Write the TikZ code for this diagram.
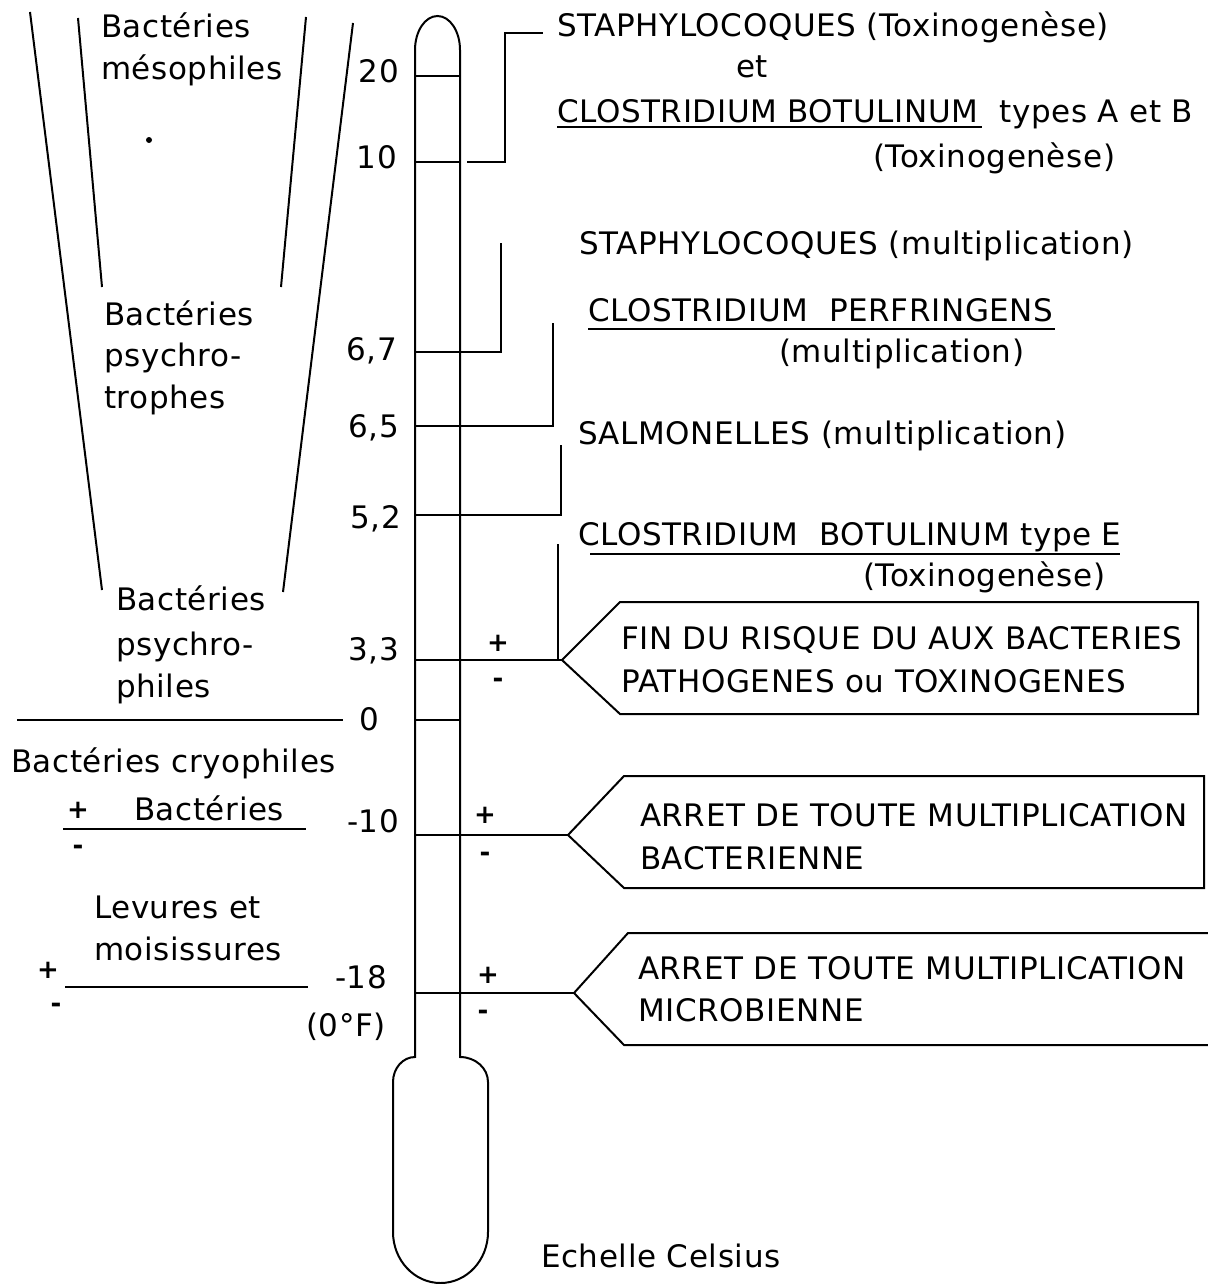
\documentclass[tikz,border=0pt]{standalone}
\usepackage{fontspec}
\setmainfont{DejaVu Sans}[LetterSpace=2]
\begin{document}
\begin{tikzpicture}[x=0.5pt,y=-0.5pt,line width=1pt,
		lbl/.style={font=\fontsize{15.5}{20}\selectfont,inner sep=0pt,anchor=base west},
		deg/.style={font=\fontsize{15.5}{20}\selectfont,inner sep=0pt,anchor=base east},
		sgn/.style={font=\fontsize{13}{15}\selectfont\bfseries,inner sep=0pt},
		uline/.style={line width=1.1pt}]
		\useasboundingbox (0,0) rectangle (1208,1284);
		
		% Draw thermometer
		\draw (415,1057) -- (415,50)
			arc[start angle=180,end angle=360,x radius=22.5,y radius=34]
			-- (460,1057) arc[start angle=-90,end angle=0,x radius=28,y radius=25]
			-- (488,1232) arc[start angle=0,end angle=180,x radius=47.5,y radius=51]
			-- (393,1082) arc[start angle=180,end angle=270,x radius=22,y radius=25] -- cycle;
		
		% Define points on the scale
		\coordinate (T20) at (415,76);
		\coordinate (T10) at (415,162);
		\coordinate (T67) at (415,352);
		\coordinate (T65) at (415,426);
		\coordinate (T52) at (415,515);
		\coordinate (T33) at (415,660);
		\coordinate (T0) at (415,720);
		\coordinate (Tm10) at (415,835);
		\coordinate (Tm18) at (415,993);
		
		% Draw ticks and brackets
		\foreach \t in {T20,T10,T0}
			\draw (\t) -- ++(45,0);
		\coordinate (B10) at (467,162);
		\coordinate (E10) at (543,33);
		\draw (B10) -- (505,162) |- (E10);
		\coordinate (E67) at (501,243);
		\draw (T67) -| (E67);
		\coordinate (E65) at (553,323);
		\draw (T65) -| (E65);
		\coordinate (E52) at (561,445);
		\draw (T52) -| (E52);
		\coordinate (E33) at (558,544);
		
		% Define box tips
		\coordinate (P1) at (562,660);
		\coordinate (P2) at (568,835);
		\coordinate (P3) at (574,993);
		\draw (T33) -- (P1);
		\draw (E33) -- (558,660);
		\draw (Tm10) -- (P2);
		\draw (Tm18) -- (P3);
		
		% Draw boxes
		\draw (P1) -- (620,602) -- (1198,602) -- (1198,714) -- (620,714) -- cycle;
		\draw (P2) -- (624,776) -- (1204,776) -- (1204,888) -- (624,888) -- cycle;
		\draw (1208,933) -- (628,933) -- (P3) -- (624,1045) -- (1208,1045);
		
		% Scale values
		\node[deg] (v20) at (400,83) {20};
		\node[deg] (v10) at (398,168) {10};
		\node[deg] (v67) at (398,360) {6,7};
		\node[deg] (v65) at (400,437) {6,5};
		\node[deg] (v52) at (402,528) {5,2};
		\node[deg] (v33) at (400,660) {3,3};
		\node[deg] (v0) at (380,730) {0};
		\node[deg] (vm10) at (400,832) {-10};
		\node[deg] (vm18) at (388,988) {-18};
		\node[deg] (vF) at (387,1036) {(0°F)};
		
		% Draw groups on the left
		\draw (30,12) -- (102,590);
		\draw (78,18) -- (102,287);
		\draw (306,17) -- (281,287);
		\draw (353,23) -- (283,592);
		\fill (149,140) circle (3);
		\draw (17,720) -- (343,720);
		\draw (63,829) -- (306,829);
		\draw (65,987) -- (308,987);
		
		\node[lbl] (mesA) at (100,38) {Bactéries};
		\node[lbl] (mesB) at (100,80) {mésophiles};
		\node[lbl] (troA) at (103,325) {Bactéries};
		\node[lbl] (troB) at (103,366) {psychro-};
		\node[lbl] (troC) at (103,408) {trophes};
		\node[lbl] (phiA) at (115,610) {Bactéries};
		\node[lbl] (phiB) at (115,655) {psychro-};
		\node[lbl] (phiC) at (115,697) {philes};
		\node[lbl] (cryo) at (10,772) {Bactéries cryophiles};
		\node[lbl] (bact) at (133,820) {Bactéries};
		\node[lbl] (levA) at (93,918) {Levures et};
		\node[lbl] (levB) at (93,960) {moisissures};
		\node[sgn] (bp) at (78,810) {+};
		\node[sgn] (bm) at (78,850) {-};
		\node[sgn] (lp) at (48,970) {+};
		\node[sgn] (lm) at (56,1008) {-};
		
		% Signs beside the tube
		\node[sgn] (p33) at (498,643) {+};
		\node[sgn] (m33) at (498,683) {-};
		\node[sgn] (p10) at (485,815) {+};
		\node[sgn] (m10) at (485,857) {-};
		\node[sgn] (p18) at (488,975) {+};
		\node[sgn] (m18) at (483,1015) {-};
		
		% Organisms
		\node[lbl] (stA) at (556,37) {STAPHYLOCOQUES (Toxinogenèse)};
		\node[lbl] (et) at (735,78) {et};
		\node[lbl] (clA) at (556,122) {CLOSTRIDIUM BOTULINUM\ \ types A et B};
		\draw[uline] (557,127) -- (982,127);
		\node[lbl] (toxA) at (872,167) {(Toxinogenèse)};
		\node[lbl] (stB) at (578,254) {STAPHYLOCOQUES (multiplication)};
		\node[lbl] (clB) at (587,321) {CLOSTRIDIUM\ \ PERFRINGENS};
		\draw[uline] (588,329) -- (1055,329);
		\node[lbl] (mulB) at (778,362) {(multiplication)};
		\node[lbl] (sal) at (577,444) {SALMONELLES (multiplication)};
		\node[lbl] (clE) at (577,545) {CLOSTRIDIUM\ \ BOTULINUM type E};
		\draw[uline] (590,554) -- (1120,554);
		\node[lbl] (toxE) at (862,586) {(Toxinogenèse)};
		
		% Box texts
		\node[lbl] (finA) at (620,649) {FIN DU RISQUE DU AUX BACTERIES};
		\node[lbl] (finB) at (620,692) {PATHOGENES ou TOXINOGENES};
		\node[lbl] (baA) at (639,826) {ARRET DE TOUTE MULTIPLICATION};
		\node[lbl] (baB) at (639,869) {BACTERIENNE};
		\node[lbl] (miA) at (637,979) {ARRET DE TOUTE MULTIPLICATION};
		\node[lbl] (miB) at (637,1021) {MICROBIENNE};
		
		\node[lbl] (cel) at (540,1267) {Echelle Celsius};
	\end{tikzpicture}
\end{document}
